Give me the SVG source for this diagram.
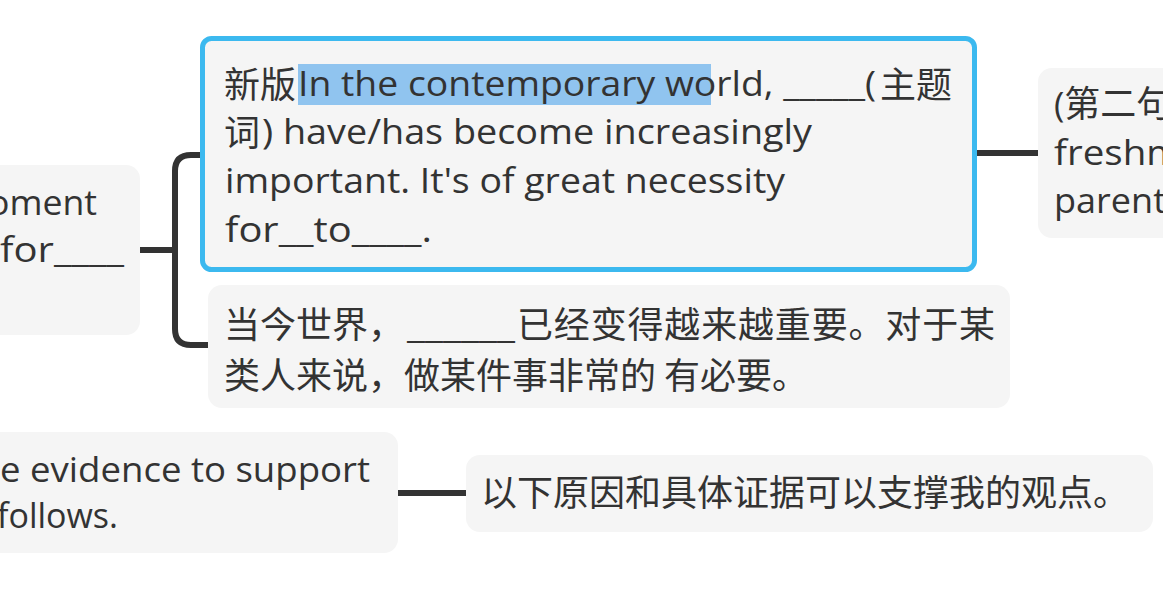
<svg xmlns="http://www.w3.org/2000/svg" width="1163" height="594" viewBox="0 0 1163 594">
<style>
.n{fill:#f5f5f5}
.t{font-family:"Open Sans","Lato","Noto Sans CJK SC",sans-serif;font-size:35px;fill:#333}
.c{font-family:"Noto Sans CJK SC","Noto Sans CJK JP",sans-serif;font-size:36px;fill:#333}
.k{stroke:#333;stroke-width:6;fill:none}
</style>
<rect width="1163" height="594" fill="#fff"/>
<g id="connectors">
<line class="k" x1="138" y1="250" x2="176" y2="250"/>
<path class="k" d="M209,155 H191 Q175,155 175,171 V329 Q175,345 191,345 H209"/>
<line class="k" x1="970" y1="153" x2="1040" y2="153"/>
<line class="k" x1="396" y1="493" x2="468" y2="493"/>
</g>
<g id="node-left">
<rect class="n" x="-20" y="165" width="160" height="170" rx="14"/>
<text class="t" x="-12" y="215" textLength="109" lengthAdjust="spacingAndGlyphs">oment</text>
<text class="t" x="0" y="262" textLength="124" lengthAdjust="spacingAndGlyphs">for____</text>
</g>
<g id="node-main">
<rect x="202.5" y="38.5" width="772" height="231" rx="9" fill="#f5f5f5" stroke="#3cb9ef" stroke-width="5"/>
<rect x="298" y="64" width="413" height="41" fill="#90c4ef"/>
<text class="c" x="224" y="98">新版</text>
<text class="t" x="298" y="96" textLength="578" lengthAdjust="spacingAndGlyphs">In the contemporary world, _____(</text>
<text class="c" x="880" y="98">主题</text>
<text class="c" x="224" y="146">词</text>
<text class="t" x="262" y="144" textLength="550" lengthAdjust="spacingAndGlyphs">) have/has become increasingly</text>
<text class="t" x="225" y="193" textLength="560" lengthAdjust="spacingAndGlyphs">important. It's of great necessity</text>
<text class="t" x="225" y="242" textLength="207" lengthAdjust="spacingAndGlyphs">for__to____.</text>
</g>
<g id="node-cn">
<rect class="n" x="208" y="285" width="802" height="123" rx="14"/>
<text class="c" x="224" y="338">当今世界，</text>
<text class="t" x="407" y="338" textLength="108" lengthAdjust="spacingAndGlyphs">______</text>
<text class="c" x="517" y="338" textLength="478">已经变得越来越重要。对于某</text>
<text class="c" x="224" y="389">类人来说，做某件事非常的 有必要。</text>
</g>
<g id="node-right">
<rect class="n" x="1038" y="68" width="150" height="170" rx="14"/>
<text class="t" x="1054" y="117">(<tspan class="c" style="font-size:36px">第二句</tspan></text>
<text class="t" x="1054" y="165" textLength="128" lengthAdjust="spacingAndGlyphs">freshm</text>
<text class="t" x="1054" y="213" textLength="112" lengthAdjust="spacingAndGlyphs">parent</text>
</g>
<g id="node-bottom-left">
<rect class="n" x="-20" y="432" width="418" height="121" rx="14"/>
<text class="t" x="0" y="482" textLength="370" lengthAdjust="spacingAndGlyphs">e evidence to support</text>
<text class="t" x="-3" y="528" textLength="121" lengthAdjust="spacingAndGlyphs">follows.</text>
</g>
<g id="node-bottom-right">
<rect class="n" x="466" y="455" width="687" height="77" rx="14"/>
<text class="c" x="481" y="506">以下原因和具体证据可以支撑我的观点。</text>
</g>
</svg>
